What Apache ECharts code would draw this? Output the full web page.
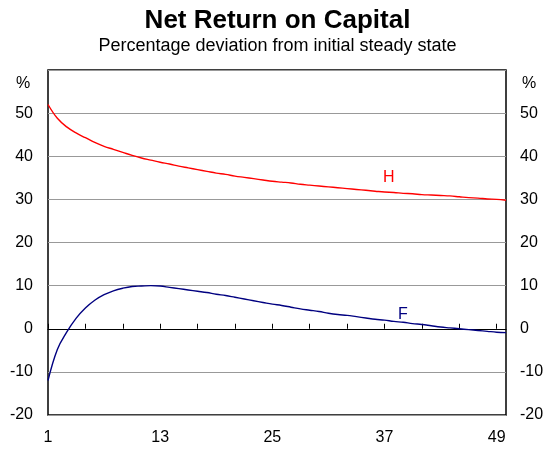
<!DOCTYPE html>
<html>
<head>
<meta charset="utf-8">
<script src="https://cdn.jsdelivr.net/npm/echarts@6/dist/echarts.min.js"></script>
<style>
html,body{margin:0;padding:0;background:#fff;}
#chart{width:555px;height:453px;}
</style>
</head>
<body>
<div id="chart"></div>
<script>
var periods = [];
for (var i = 1; i <= 50; i++) periods.push(String(i));

var seriesH = [52.0,48.8,46.8,45.4,44.3,43.2,42.3,41.6,40.9,40.2,
  39.6,39.1,38.6,38.2,37.7,37.3,36.9,36.5,36.1,35.8,
  35.4,35.1,34.8,34.5,34.2,34.0,33.8,33.5,33.3,33.1,
  32.9,32.7,32.5,32.3,32.1,31.9,31.7,31.6,31.4,31.3,
  31.1,31.0,30.9,30.8,30.6,30.4,30.3,30.1,30.0,29.8];

var seriesF = [-12.0,-4.8,-0.8,2.4,4.8,6.6,7.9,8.8,9.4,9.8,
  9.9,10.0,9.9,9.6,9.3,9.0,8.7,8.4,8.0,7.7,
  7.3,6.9,6.5,6.1,5.7,5.4,5.0,4.6,4.3,4.0,
  3.6,3.3,3.1,2.8,2.5,2.2,2.0,1.7,1.5,1.2,
  1.0,0.7,0.4,0.2,0.0,-0.2,-0.4,-0.6,-0.8,-0.9];

var yTicks = [-20,-10,0,10,20,30,40,50];

var FONT = '"Liberation Sans", Arial, sans-serif';
var chart = echarts.init(document.getElementById('chart'));
function yLabel(v){ return yTicks.indexOf(v) >= 0 ? String(v) : ''; }

chart.setOption({
  animation: false,
  backgroundColor: '#fff',
  title: {
    left: 'center', top: 3,
    text: 'Net Return on Capital',
    subtext: 'Percentage deviation from initial steady state',
    itemGap: 3,
    textStyle: {fontFamily: FONT, fontSize: 26, fontWeight: 'bold', color: '#000'},
    subtextStyle: {fontFamily: FONT, fontSize: 18, color: '#000'}
  },
  grid: {left: 48, right: 49, top: 70, bottom: 38, show: true, borderColor: '#000', borderWidth: 1.5, backgroundColor: 'transparent'},
  xAxis: [{
    type: 'category', data: periods, boundaryGap: false,
    axisLine: {show: true, onZero: true, lineStyle: {color: '#000', width: 1.2}},
    axisTick: {show: true, inside: true, length: 5, interval: 3, lineStyle: {color: '#000'}},
    axisLabel: {show: false},
    splitLine: {show: false}
  }, {
    type: 'category', data: periods, boundaryGap: false, position: 'bottom',
    axisLine: {show: false, onZero: false},
    axisTick: {show: false},
    axisLabel: {show: true, interval: 11, margin: 15, fontFamily: FONT, fontSize: 16, color: '#000'},
    splitLine: {show: false}
  }],
  yAxis: [{
    type: 'value', min: -20, max: 60, interval: 10, position: 'left',
    axisLine: {show: false}, axisTick: {show: false},
    axisLabel: {formatter: yLabel, margin: 15, fontFamily: FONT, fontSize: 16, color: '#000'},
    splitLine: {show: true, lineStyle: {color: '#999', width: 1}}
  }, {
    type: 'value', min: -20, max: 60, interval: 10, position: 'right',
    axisLine: {show: false}, axisTick: {show: false},
    axisLabel: {formatter: yLabel, margin: 14, fontFamily: FONT, fontSize: 16, color: '#000'},
    splitLine: {show: false}
  }],
  graphic: [
    {type: 'text', left: 16, top: 76, style: {text: '%', font: '16px ' + FONT, fill: '#000'}},
    {type: 'text', left: 522, top: 76, style: {text: '%', font: '16px ' + FONT, fill: '#000'}},
    {type: 'text', left: 383, top: 170, style: {text: 'H', font: '16px ' + FONT, fill: '#ff0000'}},
    {type: 'text', left: 398, top: 307, style: {text: 'F', font: '16px ' + FONT, fill: '#000080'}}
  ],
  series: [{
    name: 'H', type: 'line', data: seriesH, xAxisIndex: 0, yAxisIndex: 0,
    showSymbol: false, smooth: 0.4, lineStyle: {color: '#ff0000', width: 1.4}, z: 3
  }, {
    name: 'F', type: 'line', data: seriesF, xAxisIndex: 0, yAxisIndex: 0,
    showSymbol: false, smooth: 0.4, lineStyle: {color: '#000080', width: 1.4}, z: 3
  }]
});
</script>
</body>
</html>
